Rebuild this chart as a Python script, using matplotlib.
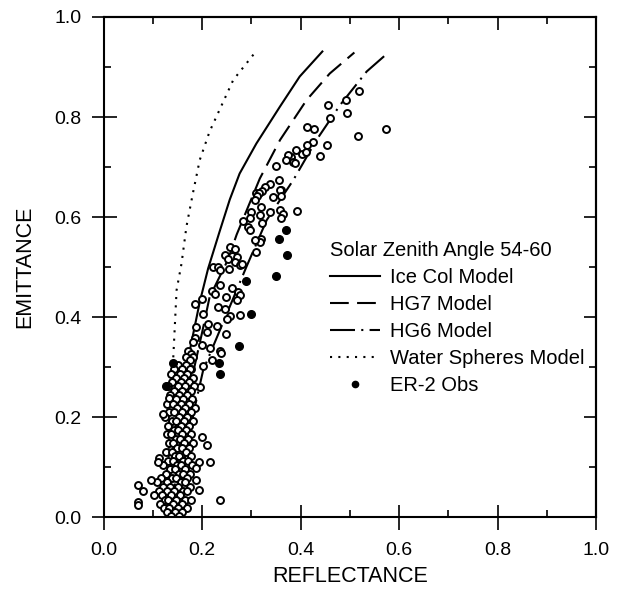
import numpy as np
import matplotlib
matplotlib.use("Agg")
import matplotlib.pyplot as plt
from matplotlib.lines import Line2D
from matplotlib.ticker import MultipleLocator

plt.rcParams['font.family'] = ['Liberation Sans', 'DejaVu Sans']

# model curves (reflectance, emittance)
ice_r = [0.130, 0.140, 0.154, 0.175, 0.195, 0.212, 0.235, 0.256, 0.276, 0.310, 0.358, 0.398, 0.444]
ice_e = [0.020, 0.130, 0.240, 0.334, 0.430, 0.497, 0.570, 0.635, 0.687, 0.747, 0.821, 0.881, 0.931]

hg7_r = [0.140, 0.155, 0.175, 0.200, 0.215, 0.252, 0.270, 0.317, 0.358, 0.412, 0.459, 0.509]
hg7_e = [0.030, 0.150, 0.260, 0.370, 0.440, 0.514, 0.565, 0.677, 0.754, 0.834, 0.887, 0.929]

hg6_r = [0.150, 0.165, 0.185, 0.202, 0.239, 0.290, 0.331, 0.385, 0.432, 0.480, 0.534, 0.578]
hg6_e = [0.030, 0.120, 0.220, 0.294, 0.381, 0.501, 0.594, 0.674, 0.754, 0.824, 0.891, 0.929]

water_r = [0.132, 0.134, 0.141, 0.148, 0.158, 0.168, 0.181, 0.195, 0.215, 0.229, 0.263, 0.309]
water_e = [0.120, 0.254, 0.314, 0.454, 0.507, 0.581, 0.647, 0.714, 0.771, 0.801, 0.874, 0.931]

# ER-2 observations, upper part
obs_r = [0.456, 0.493, 0.518, 0.495, 0.573, 0.516, 0.459, 0.413, 0.427, 0.425, 0.412, 0.453,
         0.439, 0.390, 0.381, 0.385, 0.402, 0.410, 0.350, 0.356, 0.337, 0.327, 0.310, 0.344,
         0.361, 0.375, 0.370, 0.388, 0.322, 0.316, 0.312, 0.307, 0.358, 0.361, 0.392, 0.358,
         0.364, 0.361, 0.337, 0.320, 0.317, 0.321, 0.300, 0.297, 0.283, 0.293, 0.297, 0.320,
         0.317, 0.307, 0.310, 0.256, 0.266, 0.246, 0.260, 0.270, 0.253, 0.266, 0.276, 0.222,
         0.232, 0.236, 0.255, 0.280, 0.237, 0.260, 0.219, 0.226, 0.273, 0.276, 0.248, 0.199,
         0.270, 0.185, 0.232, 0.246, 0.276, 0.256, 0.251, 0.202, 0.188, 0.212, 0.209, 0.230,
         0.249, 0.185, 0.182, 0.199, 0.215, 0.236, 0.239, 0.171, 0.178, 0.168, 0.182, 0.175,
         0.219, 0.202, 0.178, 0.168, 0.154, 0.163, 0.195, 0.171]
obs_e = [0.824, 0.834, 0.852, 0.809, 0.777, 0.762, 0.799, 0.781, 0.777, 0.751, 0.744, 0.744,
         0.722, 0.734, 0.721, 0.711, 0.726, 0.730, 0.703, 0.674, 0.667, 0.661, 0.649, 0.641,
         0.654, 0.724, 0.715, 0.709, 0.653, 0.649, 0.642, 0.634, 0.655, 0.642, 0.613, 0.615,
         0.607, 0.599, 0.611, 0.621, 0.604, 0.589, 0.611, 0.599, 0.593, 0.581, 0.574, 0.557,
         0.551, 0.554, 0.531, 0.541, 0.537, 0.524, 0.522, 0.521, 0.517, 0.511, 0.504, 0.501,
         0.501, 0.494, 0.497, 0.506, 0.464, 0.459, 0.453, 0.447, 0.451, 0.444, 0.441, 0.437,
         0.434, 0.426, 0.421, 0.417, 0.404, 0.402, 0.397, 0.407, 0.381, 0.387, 0.371, 0.382,
         0.366, 0.359, 0.351, 0.344, 0.339, 0.333, 0.329, 0.333, 0.327, 0.321, 0.321, 0.314,
         0.315, 0.302, 0.297, 0.284, 0.274, 0.271, 0.261, 0.257]

# ER-2 observations, dense low-emittance cluster
core_r = [0.151, 0.168, 0.143, 0.160, 0.176, 0.136, 0.154, 0.170, 0.147, 0.163, 0.181,
          0.139, 0.157, 0.173, 0.131, 0.150, 0.166, 0.184, 0.142, 0.159, 0.177,
          0.135, 0.153, 0.169, 0.146, 0.162, 0.180, 0.129, 0.140, 0.157, 0.173,
          0.149, 0.166, 0.186, 0.133, 0.143, 0.160, 0.177, 0.125, 0.152, 0.170,
          0.138, 0.147, 0.163, 0.181, 0.131, 0.156, 0.174, 0.142, 0.150, 0.167,
          0.128, 0.137, 0.160, 0.178, 0.146, 0.154, 0.171, 0.132, 0.141, 0.163, 0.182,
          0.149, 0.158, 0.174, 0.127, 0.138, 0.167, 0.145, 0.153, 0.178,
          0.130, 0.140, 0.162, 0.171, 0.121, 0.148, 0.156, 0.180, 0.135, 0.144, 0.166,
          0.126, 0.152, 0.161, 0.176, 0.117, 0.139, 0.147, 0.170, 0.108, 0.129, 0.157, 0.165,
          0.121, 0.135, 0.150, 0.176, 0.112, 0.128, 0.143, 0.161, 0.170,
          0.103, 0.119, 0.136, 0.154, 0.125, 0.131, 0.147, 0.165, 0.178,
          0.114, 0.140, 0.158, 0.122, 0.133, 0.151, 0.169, 0.128, 0.145, 0.160, 0.137, 0.152,
          0.133, 0.121, 0.210, 0.112, 0.110, 0.215, 0.194, 0.187, 0.097, 0.187, 0.070,
          0.079, 0.194, 0.070, 0.070, 0.237, 0.199]
core_e = [0.305, 0.305, 0.296, 0.296, 0.296, 0.287, 0.287, 0.287, 0.279, 0.279, 0.279,
          0.271, 0.271, 0.271, 0.262, 0.262, 0.262, 0.262, 0.253, 0.253, 0.253,
          0.245, 0.245, 0.245, 0.236, 0.236, 0.236, 0.227, 0.227, 0.227, 0.227,
          0.218, 0.218, 0.218, 0.210, 0.210, 0.210, 0.210, 0.201, 0.201, 0.201,
          0.192, 0.192, 0.192, 0.192, 0.183, 0.183, 0.183, 0.175, 0.175, 0.175,
          0.166, 0.166, 0.166, 0.166, 0.157, 0.157, 0.157, 0.148, 0.148, 0.148, 0.148,
          0.139, 0.139, 0.139, 0.131, 0.131, 0.131, 0.122, 0.122, 0.122,
          0.113, 0.113, 0.113, 0.113, 0.104, 0.104, 0.104, 0.104, 0.096, 0.096, 0.096,
          0.087, 0.087, 0.087, 0.087, 0.078, 0.078, 0.078, 0.078, 0.070, 0.070, 0.070, 0.070,
          0.061, 0.061, 0.061, 0.061, 0.052, 0.052, 0.052, 0.052, 0.052,
          0.044, 0.044, 0.044, 0.044, 0.035, 0.035, 0.035, 0.035, 0.035,
          0.027, 0.027, 0.027, 0.018, 0.018, 0.018, 0.018, 0.010, 0.010, 0.010, 0.003, 0.003,
          0.239, 0.207, 0.144, 0.119, 0.111, 0.111, 0.111, 0.099, 0.074, 0.074, 0.064,
          0.053, 0.054, 0.031, 0.024, 0.035, 0.161]

# darker (solid) observation dots
dark_r = [0.371, 0.356, 0.373, 0.350, 0.289, 0.300, 0.274, 0.234, 0.236, 0.141, 0.126]
dark_e = [0.575, 0.557, 0.524, 0.482, 0.473, 0.407, 0.342, 0.309, 0.287, 0.309, 0.262]

ticks = [0.0, 0.2, 0.4, 0.6, 0.8, 1.0]
tick_labels = ['0.0', '0.2', '0.4', '0.6', '0.8', '1.0']

fig = plt.figure(figsize=(6.21, 6.07), dpi=100)
ax = fig.add_axes([0.167, 0.148, 0.793, 0.824])

lw = 1.5
ax.plot(ice_r, ice_e, color='black', lw=lw, linestyle='-')
ax.plot(hg7_r, hg7_e, color='black', lw=lw, linestyle=(0, (9, 4)))
ax.plot(hg6_r, hg6_e, color='black', lw=lw, linestyle=(0, (12, 3, 1, 3)))
ax.plot(water_r, water_e, color='black', lw=lw, linestyle=(0, (1, 3)))

ax.plot(obs_r + core_r, obs_e + core_e, 'o', ms=5, mfc='white', mec='black', mew=1.4)
ax.plot(dark_r, dark_e, 'o', ms=5.5, mfc='black', mec='black', mew=1.0)

ax.set_xlim(0, 1)
ax.set_ylim(0, 1)
ax.set_xticks(ticks)
ax.set_xticklabels(tick_labels)
ax.set_yticks(ticks)
ax.set_yticklabels(tick_labels)
ax.xaxis.set_minor_locator(MultipleLocator(0.1))
ax.yaxis.set_minor_locator(MultipleLocator(0.1))
ax.tick_params(which='major', direction='inout', length=18, width=1.2, labelsize=14)
ax.tick_params(which='minor', direction='in', length=5, width=1.2)
ax.tick_params(axis='x', which='major', pad=9)
ax.tick_params(axis='y', which='major', pad=7)
for s in ax.spines.values():
    s.set_linewidth(1.5)

# ticks on top and right, pointing inwards
top = ax.secondary_xaxis('top')
top.set_xticks(ticks)
top.xaxis.set_minor_locator(MultipleLocator(0.1))
top.tick_params(which='major', direction='in', length=9, width=1.2, labeltop=False)
top.tick_params(which='minor', direction='in', length=5, width=1.2)
right = ax.secondary_yaxis('right')
right.set_yticks(ticks)
right.yaxis.set_minor_locator(MultipleLocator(0.1))
right.tick_params(which='major', direction='in', length=9, width=1.2, labelright=False)
right.tick_params(which='minor', direction='in', length=5, width=1.2)
for sec in (top, right):
    for s in sec.spines.values():
        s.set_linewidth(1.5)

ax.set_xlabel('REFLECTANCE', fontsize=15.5)
ax.set_ylabel('EMITTANCE', fontsize=15.5)
ax.xaxis.set_label_coords(0.5, -0.098)
ax.yaxis.set_label_coords(-0.140, 0.5)

handles = [
    Line2D([], [], color='black', lw=lw, linestyle='-'),
    Line2D([], [], color='black', lw=lw, linestyle=(0, (9, 4))),
    Line2D([], [], color='black', lw=lw, linestyle=(0, (12, 3, 1, 3))),
    Line2D([], [], color='black', lw=lw, linestyle=(0, (1, 3))),
    Line2D([], [], color='black', marker='o', ms=4.5, linestyle='none'),
]
labels = ['Ice Col Model', 'HG7 Model', 'HG6 Model', 'Water Spheres Model', 'ER-2 Obs']
leg = ax.legend(handles, labels, title='Solar Zenith Angle 54-60', loc='upper left',
                bbox_to_anchor=(0.459, 0.552), frameon=False, fontsize=14.5,
                title_fontsize=14.5, handlelength=2.5, handletextpad=0.5,
                labelspacing=0.4, borderpad=0, borderaxespad=0, alignment='left')

fig.savefig('out.png', dpi=100)
